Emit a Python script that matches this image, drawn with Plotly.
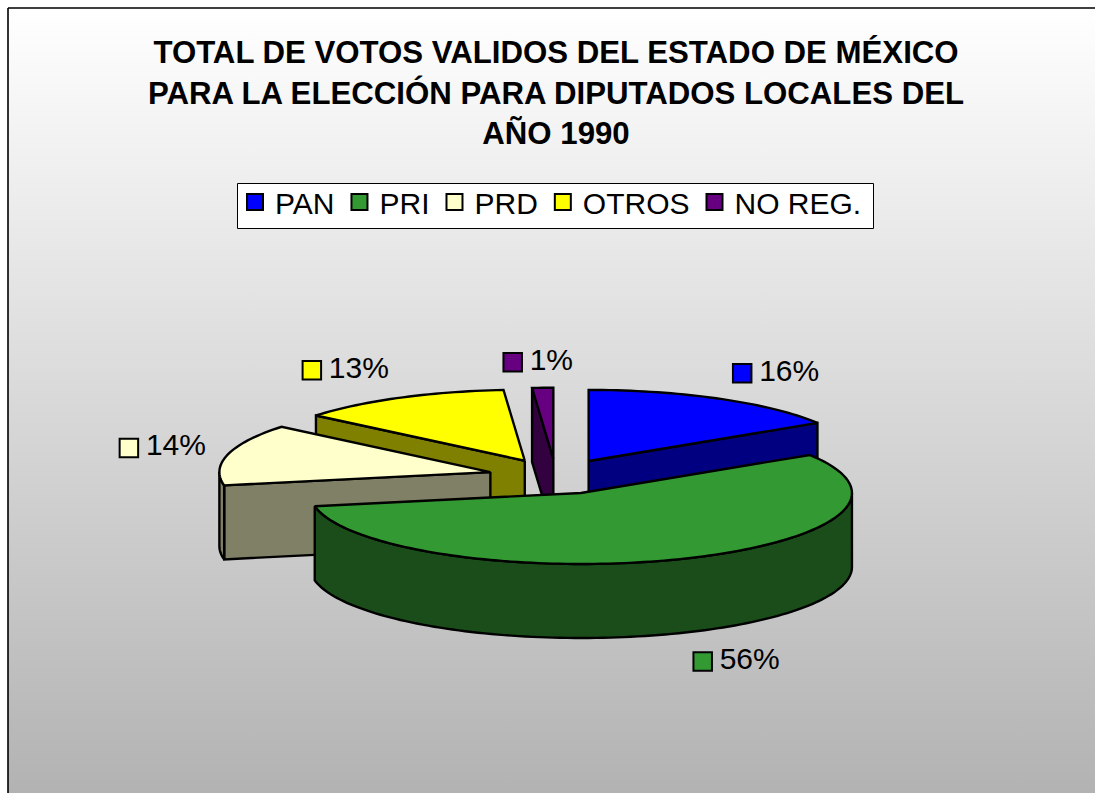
import math
import plotly.graph_objects as go

# ---- data ----
PARTIES = ["PAN", "PRI", "PRD", "OTROS", "NO REG."]
SHARES = [16, 56, 14, 12.75, 1.25]
TOP_COLORS = ["#0000FF", "#339933", "#FFFFCC", "#FFFF00", "#660080"]
SIDE_COLORS = ["#000080", "#1A4D1A", "#808066", "#808000", "#330040"]
TITLE = "TOTAL DE VOTOS VALIDOS DEL ESTADO DE MÉXICO<br>PARA LA ELECCIÓN PARA DIPUTADOS LOCALES DEL<br>AÑO 1990"

# ---- pie projection (screen px) ----
CX, CY = 556, 476.5
RX, RY = 271, 71
DEPTH = 74
EXPLODE = 0.25
# label anchor: offset from the point on the rim at the slice's mid-angle
LABEL_NUDGE = [(23, -25.5), (22, 102.5), (-99, -6.5), (-88, -27.5), (-30, -25.5)]
W, H = 1095, 793
FRAME = 8


def pt(ox, oy, ang, dz=0, r=1.0):
    t = math.radians(ang)
    return ox + r * RX * math.sin(t), oy - r * RY * math.cos(t) + dz


def arc(ox, oy, a0, a1, dz=0):
    n = max(2, int(abs(a1 - a0) / 1.5) + 1)
    return [pt(ox, oy, a0 + (a1 - a0) * i / n, dz) for i in range(n + 1)]


def poly(points, color, lw=2.4):
    xs = [p[0] for p in points] + [points[0][0]]
    ys = [p[1] for p in points] + [points[0][1]]
    return go.Scatter(x=xs, y=ys, mode="lines", fill="toself", fillcolor=color,
                      line=dict(color="black", width=lw, simplify=False),
                      showlegend=False, hoverinfo="skip")


fig = go.Figure()
# page background with the frame's vertical gradient
fig.add_trace(go.Scatter(
    x=[FRAME, W + 5, W + 5, FRAME, FRAME], y=[FRAME, FRAME, H + 5, H + 5, FRAME],
    mode="lines", line=dict(color="black", width=1.6), fill="toself", showlegend=False, hoverinfo="skip",
    fillgradient=dict(type="vertical",
                      colorscale=[[0, "#B2B2B2"], [1, "#FFFFFF"]])))

total = sum(SHARES)
slices = []
start = 0.0
for i, v in enumerate(SHARES):
    end = start + 360.0 * v / total
    slices.append((i, start, end))
    start = end

label_pts = []
for i, a0, a1 in slices:
    mid = math.radians((a0 + a1) / 2)
    ox = CX + EXPLODE * RX * math.sin(mid)
    oy = CY - EXPLODE * RY * math.cos(mid)
    rim = pt(ox, oy, (a0 + a1) / 2)
    label_pts.append((rim[0] + LABEL_NUDGE[i][0], rim[1] + LABEL_NUDGE[i][1]))

for i, a0, a1 in sorted(slices, key=lambda s: -math.cos(math.radians((s[1] + s[2]) / 2))):
    mid = math.radians((a0 + a1) / 2)
    ox = CX + EXPLODE * RX * math.sin(mid)
    oy = CY - EXPLODE * RY * math.cos(mid)
    side = SIDE_COLORS[i]
    # visible cut faces
    for ang, visible in ((a0, math.sin(math.radians(a0)) < -1e-9), (a1, math.sin(math.radians(a1)) > 1e-9)):
        if visible:
            e = pt(ox, oy, ang)
            fig.add_trace(poly([(ox, oy), e, (e[0], e[1] + DEPTH), (ox, oy + DEPTH)], side))
    # visible outer rim
    r0, r1 = max(a0, 90), min(a1, 270)
    if r1 > r0:
        fig.add_trace(poly(arc(ox, oy, r0, r1) + arc(ox, oy, r1, r0, DEPTH), side))
    # top face
    fig.add_trace(poly([(ox, oy)] + arc(ox, oy, a0, a1), TOP_COLORS[i]))

# data labels
fig.add_trace(go.Scatter(
    x=[p[0] for p in label_pts], y=[p[1] for p in label_pts],
    mode="markers", marker=dict(symbol="square", size=18.5, color=TOP_COLORS, line=dict(color="black", width=2)),
    showlegend=False, hoverinfo="skip", cliponaxis=False))
fig.add_trace(go.Scatter(
    x=[p[0] + 17 for p in label_pts], y=[p[1] for p in label_pts],
    mode="text", text=[f"{round(v)}%" for v in SHARES], textposition="middle right",
    textfont=dict(family="Liberation Sans", size=30, color="black"),
    showlegend=False, hoverinfo="skip", cliponaxis=False))

# legend entries
for name, col in zip(PARTIES, TOP_COLORS):
    fig.add_trace(go.Scatter(x=[None], y=[None], mode="markers", name=name,
                             marker=dict(symbol="square", size=19.5, color=col,
                                         line=dict(color="black", width=2))))

fig.update_layout(
    width=W, height=H,
    margin=dict(l=0, r=0, t=0, b=0),
    paper_bgcolor="white", plot_bgcolor="white",
    xaxis=dict(range=[0, W], visible=False, fixedrange=True),
    yaxis=dict(range=[H, 0], visible=False, fixedrange=True),
    title=dict(text=TITLE, x=556 / W, xanchor="center", y=1 - 63 / H, yanchor="top",
               font=dict(family="Liberation Sans", size=31.2, color="black", weight="bold")),
    legend=dict(orientation="h", x=235 / W, xanchor="left",
                y=1 - 176 / H, yanchor="top",
                bgcolor="rgba(0,0,0,0)", borderwidth=0,
                font=dict(family="Liberation Sans", size=30, color="black"),
                itemsizing="trace"),
    shapes=[dict(type="rect", x0=237.5, x1=873.5, y0=183.5, y1=228.5, xref="x", yref="y",
                 fillcolor="white", line=dict(color="black", width=1), layer="above")],
)
fig.write_html("out.html", post_script="document.body.style.margin='0';",
               config=dict(displayModeBar=False))
